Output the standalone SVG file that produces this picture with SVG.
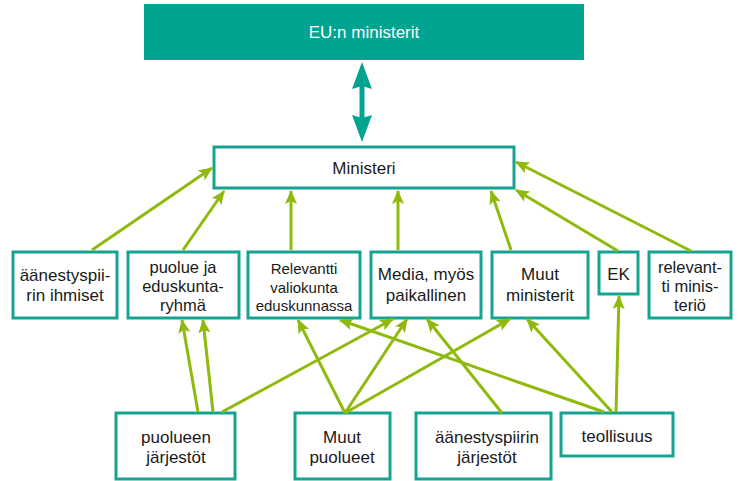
<svg xmlns="http://www.w3.org/2000/svg" width="738" height="481" viewBox="0 0 738 481">
<defs>
<style>
.box{fill:#fff;stroke:#17a392;stroke-width:3}
.t{font-family:"Liberation Sans",Arial,sans-serif;font-size:17px;fill:#1a1a1a;text-anchor:middle;dominant-baseline:central}
.m{font-size:16.5px}
.s{font-size:15px}
.w{fill:#fff}
.a{stroke:#8fba0d;stroke-width:3;fill:none;marker-end:url(#ah)}
</style>
<marker id="ah" viewBox="0 0 14 12" markerWidth="14" markerHeight="12" refX="13" refY="6" orient="auto" markerUnits="userSpaceOnUse">
<path d="M0,0 L14,6 L0,12 L3,6 z" fill="#8fba0d"/>
</marker>
</defs>
<rect width="738" height="481" fill="#fff"/>

<g id="eu">
<rect x="144" y="4" width="440" height="56" fill="#00a490"/>
<text class="t w" x="364" y="32">EU:n ministerit</text>
</g>

<g id="ministeri">
<rect class="box" x="214" y="147" width="300" height="41"/>
<text class="t" x="364" y="168">Ministeri</text>
</g>

<g id="aanestyspiirin-ihmiset">
<rect class="box" x="13" y="252" width="104" height="66"/>
<text class="t" x="65" y="275">äänestyspii-</text>
<text class="t" x="65" y="295">rin ihmiset</text>
</g>
<g id="puolue">
<rect class="box" x="128" y="252" width="111" height="66"/>
<text class="t m" x="183" y="267">puolue ja</text>
<text class="t m" x="183" y="286">eduskunta-</text>
<text class="t m" x="183" y="305">ryhmä</text>
</g>
<g id="relevantti-valiokunta">
<rect class="box" x="248" y="252" width="112" height="66"/>
<text class="t s" x="304" y="268">Relevantti</text>
<text class="t s" x="304" y="287">valiokunta</text>
<text class="t s" x="304" y="305">eduskunnassa</text>
</g>
<g id="media">
<rect class="box" x="371" y="252" width="110" height="66"/>
<text class="t" x="426" y="274">Media, myös</text>
<text class="t" x="426" y="295">paikallinen</text>
</g>
<g id="muut-ministerit">
<rect class="box" x="492" y="252" width="96" height="66"/>
<text class="t" x="540" y="274">Muut</text>
<text class="t" x="540" y="295">ministerit</text>
</g>
<g id="ek">
<rect class="box" x="599" y="252" width="39" height="42"/>
<text class="t" x="618.5" y="274">EK</text>
</g>
<g id="relevantti-ministerio">
<rect class="box" x="649" y="252" width="82" height="66"/>
<text class="t m" x="690" y="267">relevant-</text>
<text class="t m" x="690" y="286">ti minis-</text>
<text class="t m" x="690" y="305">teriö</text>
</g>

<g id="puolueen-jarjestot">
<rect class="box" x="116" y="413" width="119" height="66"/>
<text class="t" x="176" y="437">puolueen</text>
<text class="t" x="176" y="457">järjestöt</text>
</g>
<g id="muut-puolueet">
<rect class="box" x="295" y="413" width="95" height="66"/>
<text class="t" x="342" y="437">Muut</text>
<text class="t" x="342" y="457">puolueet</text>
</g>
<g id="aanestyspiirin-jarjestot">
<rect class="box" x="416" y="413" width="135" height="66"/>
<text class="t" x="487" y="437">äänestyspiirin</text>
<text class="t" x="487" y="457">järjestöt</text>
</g>
<g id="teollisuus">
<rect class="box" x="561" y="413" width="112" height="43"/>
<text class="t" x="617" y="436">teollisuus</text>
</g>

<g id="connectors">
<g fill="#00a490">
<rect x="359.5" y="86" width="5" height="32"/>
<polygon points="362,62 372,89 362,86 352,89"/>
<polygon points="362,142 372,115 362,118 352,115"/>
</g>
<line class="a" x1="92" y1="250" x2="212" y2="168"/>
<line class="a" x1="183" y1="250" x2="224" y2="191"/>
<line class="a" x1="291" y1="250" x2="291" y2="191"/>
<line class="a" x1="398" y1="250" x2="398" y2="191"/>
<line class="a" x1="511" y1="250" x2="491" y2="191"/>
<line class="a" x1="618" y1="251" x2="516" y2="190"/>
<line class="a" x1="691" y1="251" x2="516" y2="162"/>
<line class="a" x1="198" y1="412" x2="182" y2="320"/>
<line class="a" x1="213" y1="412" x2="203" y2="320"/>
<line class="a" x1="222" y1="412" x2="393" y2="319"/>
<line class="a" x1="345" y1="413" x2="298" y2="320"/>
<line class="a" x1="345" y1="413" x2="407" y2="319"/>
<line class="a" x1="345" y1="413" x2="510" y2="319"/>
<line class="a" x1="502" y1="413" x2="427" y2="319"/>
<line class="a" x1="604" y1="412" x2="340" y2="320"/>
<line class="a" x1="612" y1="412" x2="527" y2="319"/>
<line class="a" x1="616" y1="412" x2="619" y2="296"/>
</g>
</svg>
